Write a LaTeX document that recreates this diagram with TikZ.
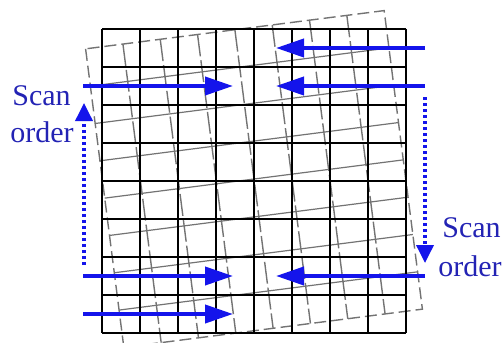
\documentclass[tikz,border=0pt]{standalone}
\usepackage{fontspec}
\setmainfont{Liberation Serif}
\usetikzlibrary{arrows.meta}
\definecolor{arrowblue}{RGB}{20,20,235}
\definecolor{textblue}{RGB}{35,35,180}
\definecolor{rotgray}{RGB}{115,115,115}
\tikzset{
  blackgrid/.style={line width=1pt, black},
  rotborder/.style={line width=0.7pt, rotgray, dash pattern=on 6pt off 2.5pt},
  rotvert/.style={line width=0.7pt, rotgray, dash pattern=on 11pt off 2pt},
  rothor/.style={line width=0.6pt, rotgray},
  scanarrow/.style={line width=2pt, arrowblue, -{Triangle[length=14pt,width=9pt]}},
  orderarrow/.style={line width=1.8pt, arrowblue, dash pattern=on 1.5pt off 1.5pt, -{Triangle[length=9pt,width=8.5pt]}},
  label/.style={text=textblue, inner sep=0pt, font=\fontsize{15}{17}\selectfont}
}
\begin{document}
\begin{tikzpicture}[x=0.5pt,y=-0.5pt]
\useasboundingbox (0,0) rectangle (502,342);
% rotated grid
\begin{scope}[shift={(254,179)}, rotate=7.3]
  \foreach \i in {1,...,7} {
    \draw[rotvert] ({-150.5+\i*37.625},-150.5) -- ({-150.5+\i*37.625},150.5);
    \draw[rothor] (-150.5,{-150.5+\i*37.625}) -- (150.5,{-150.5+\i*37.625});
  }
  \draw[rotborder] (-150.5,-150.5) rectangle (150.5,150.5);
\end{scope}
% black grid
\foreach \i in {0,...,8} {
  \draw[blackgrid] ({102+\i*38},29) -- ({102+\i*38},333);
  \draw[blackgrid] (102,{29+\i*38}) -- (406,{29+\i*38});
}
% arrow end points
\coordinate (a1s) at (83,86);  \coordinate (a1e) at (233,86);
\coordinate (a2s) at (425,48); \coordinate (a2e) at (276,48);
\coordinate (a3s) at (425,86); \coordinate (a3e) at (276,86);
\coordinate (a4s) at (83,276); \coordinate (a4e) at (233,276);
\coordinate (a5s) at (83,314); \coordinate (a5e) at (233,314);
\coordinate (a6s) at (425,276);\coordinate (a6e) at (276,276);
\coordinate (d1s) at (84,265); \coordinate (d1e) at (84,103);
\coordinate (d2s) at (425,97); \coordinate (d2e) at (425,263);
\draw[scanarrow] (a1s) -- (a1e);
\draw[scanarrow] (a2s) -- (a2e);
\draw[scanarrow] (a3s) -- (a3e);
\draw[scanarrow] (a4s) -- (a4e);
\draw[scanarrow] (a5s) -- (a5e);
\draw[scanarrow] (a6s) -- (a6e);
\draw[orderarrow] (d1s) -- (d1e);
\draw[orderarrow] (d2s) -- (d2e);
% labels
\node[label, anchor=base west] (ls) at (12,105) {Scan};
\node[label, anchor=base west] (lo) at (10,142) {order};
\node[label, anchor=base west] (rs) at (442,237) {Scan};
\node[label, anchor=base west] (ro) at (438,276) {order};
\end{tikzpicture}
\end{document}
